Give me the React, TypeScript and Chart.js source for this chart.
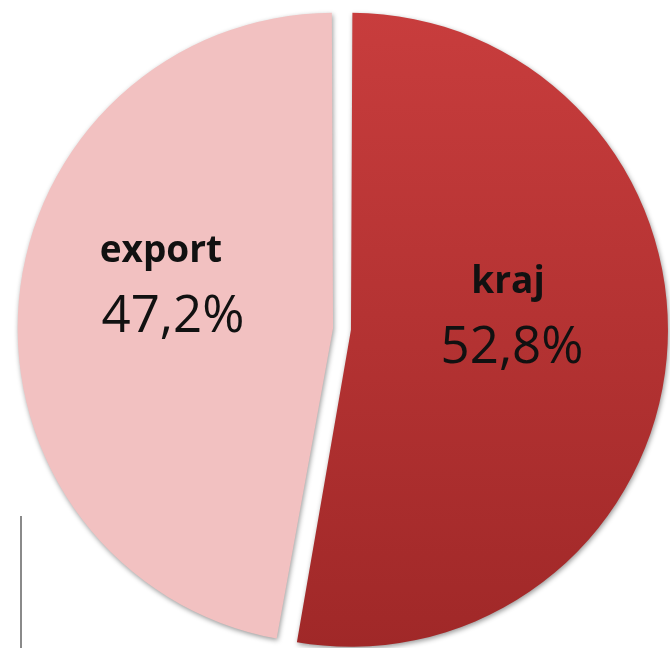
import React, { useEffect, useRef } from "react";
import { Chart, registerables } from "chart.js";

Chart.register(...registerables);

const categories = ["kraj", "export"];
const values = [52.8, 47.2];
const valueLabels = ["52,8%", "47,2%"];

const labelPlugin = {
  id: "sliceLabels",
  beforeDatasetsDraw(chart: any) {
    const ctx = chart.ctx;
    ctx.save();
    ctx.shadowColor = "rgba(0,0,0,0.4)";
    ctx.shadowBlur = 5;
    ctx.shadowOffsetX = 1;
    ctx.shadowOffsetY = 2;
  },
  afterDatasetsDraw(chart: any, _args: any, opts: any) {
    const ctx = chart.ctx;
    ctx.restore();
    const meta = chart.getDatasetMeta(0);
    const anchors = opts.anchors;
    meta.data.forEach((arc: any, i: number) => {
      const a = anchors[i];
      const r = arc.outerRadius;
      const x = arc.x + a.fx * r;
      const y = arc.y + a.fy * r;
      ctx.save();
      ctx.fillStyle = "#111111";
      ctx.textAlign = "center";
      ctx.textBaseline = "alphabetic";
      ctx.font = "bold 37px 'Open Sans'";
      ctx.fillText(categories[i], x - a.tx, y);
      ctx.font = "51px 'Open Sans'";
      ctx.fillText(valueLabels[i], x, y + 70);
      ctx.restore();
    });
  },
};

export default function App() {
  const ref = useRef<HTMLCanvasElement | null>(null);
  useEffect(() => {
    if (!ref.current) return;
    const chart = new Chart(ref.current, {
      type: "pie",
      data: {
        labels: categories,
        datasets: [
          {
            data: values,
            backgroundColor: (c: any) => {
              const ch = c.chart;
              const area = ch.chartArea;
              if (!area) return "#b03030";
              if (c.dataIndex === 0) {
                const g = ch.ctx.createLinearGradient(0, area.top, 0, area.bottom);
                g.addColorStop(0, "#c83d3d");
                g.addColorStop(1, "#a02828");
                return g;
              }
              return "#f2c1c1";
            },
            borderWidth: 0,
            offset: 36,
          },
        ],
      },
      options: {
        responsive: false,
        animation: false,
        radius: 308,
        rotation: 0,
        layout: { padding: { left: 14, top: 10, right: 0, bottom: 0 } },
        plugins: {
          legend: { display: false },
          tooltip: { enabled: false },
          sliceLabels: {
            anchors: [
              { fx: 0.552, fy: -0.117, tx: 4 },
              { fx: -0.549, fy: -0.2175, tx: 12 },
            ],
          },
        },
      } as any,
      plugins: [labelPlugin],
    });
    return () => chart.destroy();
  }, []);
  return (
    <div style={{ position: "absolute", left: 0, top: 0, width: 670, height: 648, background: "#fff" }}>
      <canvas ref={ref} width={670} height={648} style={{ display: "block" }} />
      <div style={{ position: "absolute", left: 20, top: 516, width: 2, height: 132, background: "#8a8a8a" }} />
    </div>
  );
}
